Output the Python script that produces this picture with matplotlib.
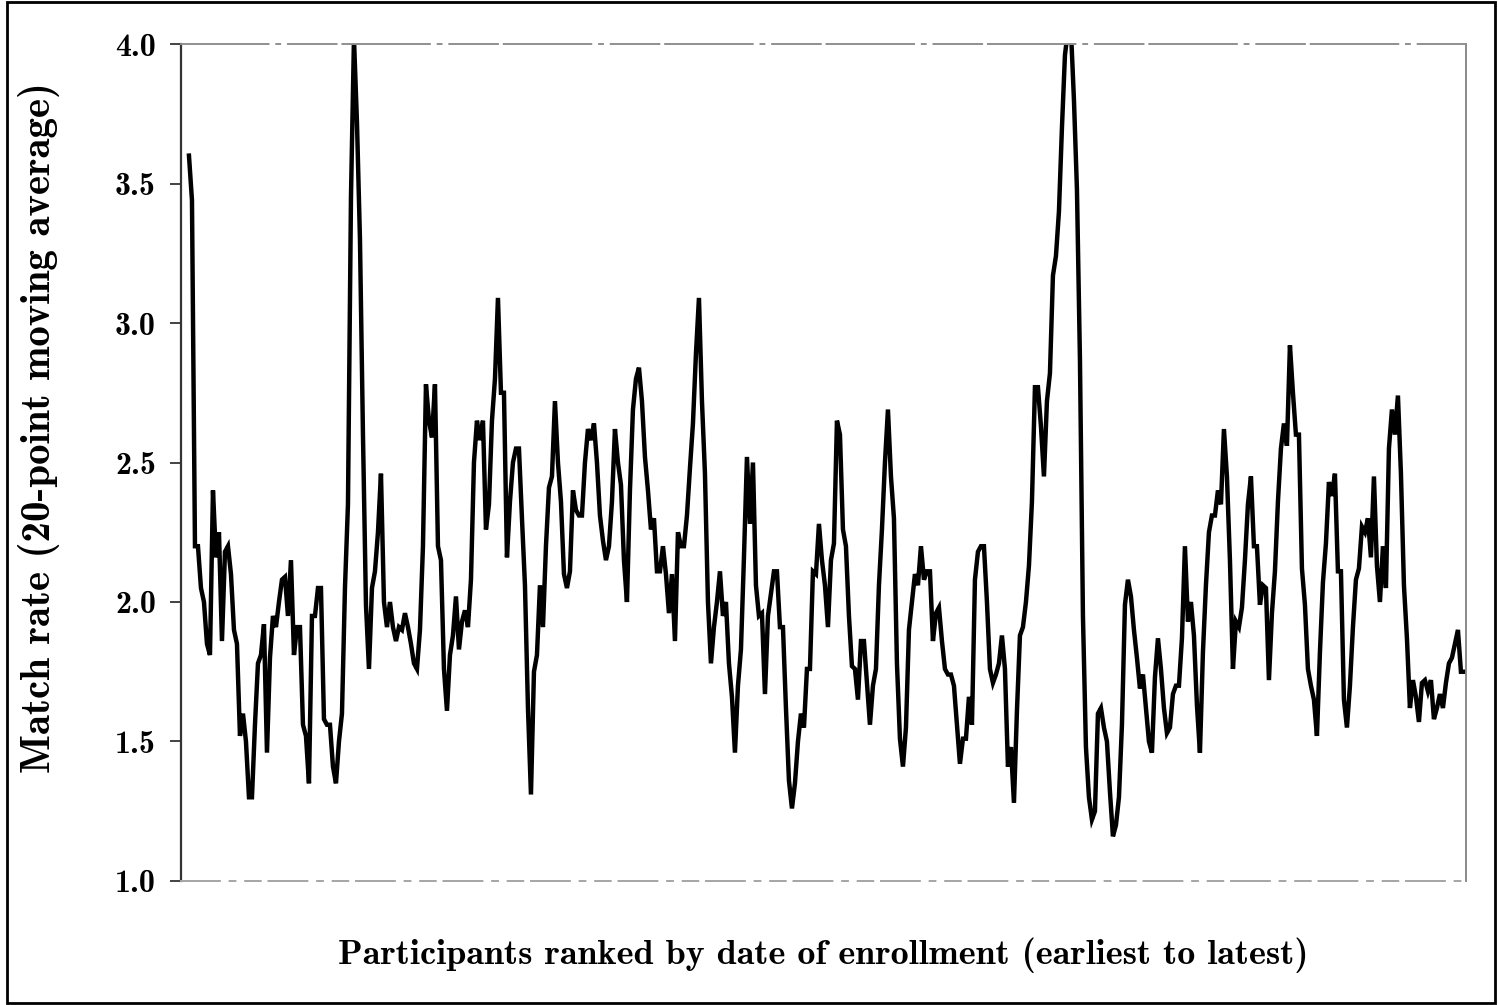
import matplotlib.pyplot as plt
import numpy as np
from matplotlib.patches import Rectangle

# valores (media movel de 20 pontos), um por participante
match_rate = [
    3.60, 3.44, 2.20, 2.20, 2.05, 2.00, 1.85, 1.81, 2.40, 2.16, 2.25, 1.86, 2.18, 2.20, 2.10, 1.90,
    1.85, 1.52, 1.60, 1.50, 1.30, 1.30, 1.56, 1.78, 1.81, 1.92, 1.46, 1.80, 1.95, 1.91, 2.00, 2.08,
    2.09, 1.95, 2.15, 1.81, 1.91,
    1.91, 1.56, 1.52, 1.35, 1.95, 1.95, 2.05, 2.05, 1.58, 1.56, 1.56, 1.41, 1.35, 1.50, 1.60, 2.05,
    2.35, 3.45, 4.02, 3.72, 3.30, 2.60, 1.99, 1.76, 2.05, 2.11, 2.25, 2.46, 2.00, 1.91, 2.00, 1.91,
    1.86, 1.91, 1.90, 1.96, 1.91, 1.85, 1.78, 1.76, 1.90, 2.20,
    2.78, 2.65, 2.59, 2.78, 2.20, 2.15, 1.76, 1.61, 1.81, 1.88, 2.02, 1.83, 1.93, 1.97, 1.91, 2.08,
    2.50, 2.65, 2.58, 2.65, 2.26, 2.35, 2.65, 2.80, 3.09, 2.75, 2.75, 2.16, 2.36, 2.50, 2.55, 2.55,
    2.30, 2.06, 1.62, 1.31, 1.75, 1.81, 2.06,
    1.91, 2.20, 2.41, 2.45, 2.72, 2.50, 2.36, 2.10, 2.05, 2.11, 2.40, 2.33, 2.31, 2.31, 2.50, 2.62,
    2.58, 2.64, 2.50, 2.31, 2.22, 2.15, 2.20, 2.36, 2.62, 2.50, 2.42, 2.15, 2.00, 2.40, 2.69, 2.80,
    2.84, 2.72, 2.52, 2.40, 2.26, 2.30, 2.11,
    2.11, 2.20, 2.10, 1.96, 2.10, 1.86, 2.25, 2.20, 2.20, 2.31, 2.48, 2.64, 2.89, 3.09, 2.72, 2.46,
    2.00, 1.78, 1.91, 2.00, 2.11, 1.95, 2.00, 1.78, 1.66, 1.46, 1.70, 1.83, 2.16, 2.52, 2.28, 2.50,
    2.06, 1.95, 1.96, 1.67, 1.95, 2.03, 2.11, 2.11, 1.91,
    1.91, 1.62, 1.36, 1.26, 1.35, 1.50, 1.60, 1.55, 1.76, 1.76, 2.11, 2.10, 2.28, 2.15, 2.06, 1.91,
    2.15, 2.21, 2.65, 2.60, 2.26, 2.20, 1.95, 1.77, 1.76, 1.65, 1.86, 1.86, 1.71, 1.56, 1.70, 1.76,
    2.06, 2.26, 2.50, 2.69, 2.45, 2.30, 1.78, 1.51, 1.41, 1.55, 1.90,
    2.00, 2.10, 2.06, 2.20, 2.08, 2.11, 2.11, 1.86, 1.96, 1.98, 1.86, 1.76, 1.74, 1.74, 1.70, 1.56,
    1.42, 1.51, 1.51, 1.66, 1.56, 2.08, 2.18, 2.20, 2.20, 2.00, 1.76, 1.71, 1.74, 1.78, 1.88, 1.76,
    1.41, 1.48, 1.28, 1.61, 1.88,
    1.91, 2.00, 2.13, 2.36, 2.77, 2.77, 2.63, 2.45, 2.72, 2.82, 3.17, 3.24, 3.40, 3.70, 3.96, 4.05,
    4.05, 3.80, 3.48, 2.87, 1.95, 1.48, 1.30, 1.22, 1.25, 1.60, 1.62, 1.55, 1.50, 1.32, 1.16, 1.20,
    1.30, 1.56, 1.99, 2.08, 2.02, 1.90, 1.80,
    1.69, 1.74, 1.62, 1.50, 1.46, 1.73, 1.87, 1.76, 1.62, 1.53, 1.55, 1.67, 1.70, 1.70, 1.87, 2.20,
    1.93, 2.00, 1.88, 1.63, 1.46, 1.82, 2.06, 2.25, 2.31, 2.31, 2.40, 2.35, 2.62, 2.45, 2.15, 1.76,
    1.93, 1.91, 1.98, 2.15, 2.35, 2.45, 2.20, 2.20, 1.99,
    2.06, 2.05, 1.72, 1.96, 2.11, 2.36, 2.55, 2.64, 2.56, 2.92, 2.75, 2.60, 2.60, 2.12, 1.99, 1.76,
    1.70, 1.65, 1.52, 1.82, 2.07, 2.21, 2.43, 2.38, 2.46, 2.11, 2.11, 1.65, 1.55, 1.70, 1.91, 2.08,
    2.12, 2.27, 2.25, 2.30, 2.16, 2.45,
    2.13, 2.00, 2.20, 2.05, 2.55, 2.69, 2.60, 2.74, 2.46, 2.06, 1.87, 1.62, 1.72, 1.66, 1.57, 1.71,
    1.72, 1.68, 1.72, 1.58, 1.62, 1.67, 1.62, 1.71, 1.78, 1.80, 1.85, 1.90, 1.75, 1.75, 1.75,
]
y_ticks = [1.0, 1.5, 2.0, 2.5, 3.0, 3.5, 4.0]
x_label = 'Participants ranked by date of enrollment (earliest to latest)'
y_label = 'Match rate (20-point moving average)'

plt.rcParams['font.family'] = 'cmb10'
plt.rcParams['axes.unicode_minus'] = False

fig = plt.figure(figsize=(14.98, 10.05), dpi=100)
ax = fig.add_axes([0.1208, 0.1234, 0.8578, 0.8328])

y = np.array(match_rate)
x = np.arange(len(y))
ax.plot(x, y, color='black', linewidth=3.2, solid_joinstyle='miter')

ax.set_xlim(-2.67, len(y) - 1.33)
ax.set_ylim(1.0, 4.0)
ax.set_yticks(y_ticks)
ax.set_yticklabels(['%.1f' % t for t in y_ticks], fontsize=23)
ax.set_xticks([])
ax.tick_params(axis='y', direction='out', length=8, width=1.2, pad=10, color='#222222')

ax.set_xlabel(x_label, fontsize=26, labelpad=41)
ax.set_ylabel(y_label, fontsize=29.5)
ax.yaxis.set_label_coords(-0.094, 0.542)

# moldura do grafico
ax.spines['left'].set_color('#333333')
ax.spines['left'].set_linewidth(1.6)
ax.spines['right'].set_color('#8a8a8a')
ax.spines['right'].set_linewidth(1.4)
ax.spines['top'].set_color('#8f8f8f')
ax.spines['top'].set_linewidth(1.4)
ax.spines['top'].set_linestyle((0, (45, 4, 2, 4, 25, 3)))
ax.spines['bottom'].set_color('#a5a5a5')
ax.spines['bottom'].set_linewidth(1.4)
ax.spines['bottom'].set_linestyle((0, (20, 5, 3, 5, 8, 4)))

# borda preta em volta da figura
fig.patches.append(Rectangle((0.005, 0.002), 0.993, 0.996, transform=fig.transFigure,
                             fill=False, edgecolor='black', linewidth=2.0))

fig.savefig('out.png', dpi=100)
